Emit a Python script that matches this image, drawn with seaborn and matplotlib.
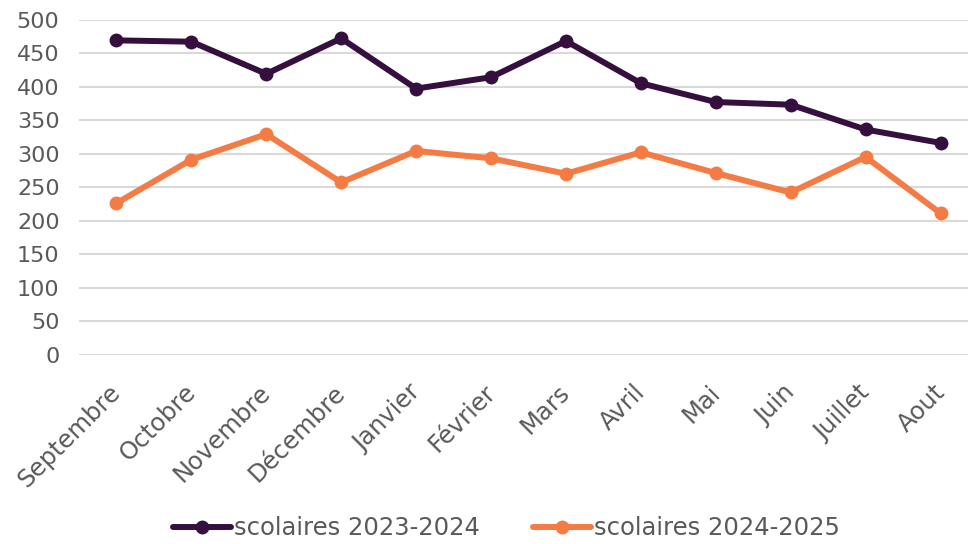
import matplotlib
matplotlib.use("Agg")
import matplotlib.pyplot as plt
import matplotlib.transforms as mtransforms
import seaborn as sns
import pandas as pd

months = ["Septembre", "Octobre", "Novembre", "Décembre", "Janvier", "Février",
          "Mars", "Avril", "Mai", "Juin", "Juillet", "Aout"]
scolaires_2023_2024 = [469, 467, 419, 472, 397, 414, 468, 405, 377, 373, 336, 316]
scolaires_2024_2025 = [226, 291, 329, 257, 304, 293, 270, 302, 271, 242, 295, 211]
series_names = ["scolaires 2023-2024", "scolaires 2024-2025"]
colors = ["#35103F", "#F47B43"]
y_ticks = [0, 50, 100, 150, 200, 250, 300, 350, 400, 450, 500]

df = pd.DataFrame({
    "mois": months * 2,
    "pos": list(range(len(months))) * 2,
    "valeur": scolaires_2023_2024 + scolaires_2024_2025,
    "serie": [series_names[0]] * len(months) + [series_names[1]] * len(months),
})

sns.set_theme(style="white")
plt.rcParams["font.family"] = ["DejaVu Sans"]
text_color = "#595959"

fig = plt.figure(figsize=(9.68, 5.44), dpi=100)
ax = fig.add_axes([0.0816, 0.348, 0.9287, 0.616])

sns.lineplot(data=df, x="pos", y="valeur", hue="serie", palette=colors,
             marker="o", markersize=10, markeredgewidth=0, linewidth=4.3,
             ax=ax, legend=True)

ax.set_xlim(-0.5, len(months) - 0.5)
ax.set_ylim(0, 500)
ax.set_yticks(y_ticks)
ax.set_xticks(range(len(months)))
ax.set_xticklabels(months, rotation=45, ha="right", rotation_mode="anchor")
ax.tick_params(axis="y", length=0, labelsize=16, labelcolor=text_color, pad=14)
ax.tick_params(axis="x", length=0, labelsize=17.5, labelcolor=text_color, pad=17)
shift = mtransforms.ScaledTranslation(-8 / 100, -2 / 100, fig.dpi_scale_trans)
for lbl in ax.get_xticklabels():
    lbl.set_transform(lbl.get_transform() + shift)
ax.set_xlabel("")
ax.set_ylabel("")
ax.yaxis.grid(True, color="#D9D9D9", linewidth=1.5)
ax.set_axisbelow(True)
for s in ax.spines.values():
    s.set_visible(False)

handles, labels = ax.get_legend_handles_labels()
ax.get_legend().remove()
leg = fig.legend(handles, labels, loc="center", bbox_to_anchor=(0.523, 0.029),
                 ncol=2, frameon=False, fontsize=17.5, handlelength=2.4,
                 handletextpad=0.1, columnspacing=2.2)
for t in leg.get_texts():
    t.set_color(text_color)

fig.savefig("out.png", dpi=100)
